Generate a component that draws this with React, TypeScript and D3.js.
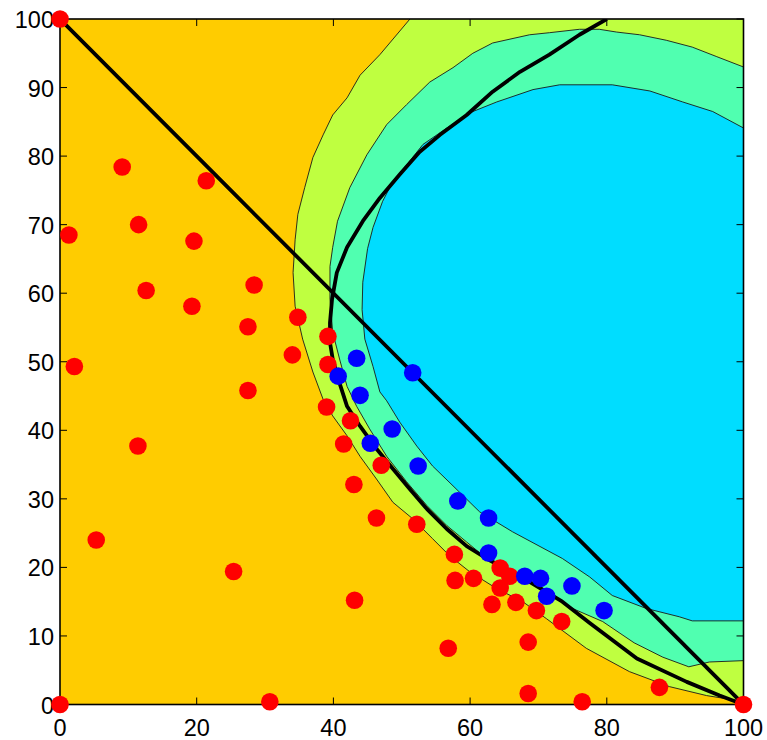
import React from 'react';
import * as d3 from 'd3';

type Pt = [number, number];

const WIDTH = 767;
const HEIGHT = 740;
const PLOT = { left: 60, right: 743.5, top: 19, bottom: 704.5 };

const xTicks = [0, 20, 40, 60, 80, 100];
const yTicks = [0, 10, 20, 30, 40, 50, 60, 70, 80, 90, 100];

// Class 1 samples
const redPoints: Pt[] = [
  [0, 100], [1.3, 68.5], [9.1, 78.4], [21.4, 76.4], [11.5, 70.0], [19.6, 67.6],
  [12.6, 60.4], [19.3, 58.1], [28.4, 61.2], [27.5, 55.1], [34.8, 56.5], [34.0, 51.0],
  [2.1, 49.3], [27.5, 45.8], [11.4, 37.7], [5.3, 24.0], [25.4, 19.4], [30.7, 0.4],
  [0, 0], [39.2, 53.7], [39.2, 49.6], [39.0, 43.4], [42.5, 41.4], [41.5, 38.0],
  [43.0, 32.1], [47.0, 34.9], [46.3, 27.2], [52.2, 26.3], [57.7, 21.9], [57.8, 18.1],
  [60.5, 18.4], [64.4, 19.9], [65.8, 18.7], [64.4, 17.0], [63.2, 14.6], [66.7, 14.9],
  [69.7, 13.7], [73.4, 12.1], [43.1, 15.2], [56.8, 8.2], [68.5, 9.1], [68.5, 1.6],
  [76.4, 0.4], [87.7, 2.5], [100, 0],
];

// Class 2 samples
const bluePoints: Pt[] = [
  [43.4, 50.5], [40.7, 47.9], [51.6, 48.4], [43.9, 45.1], [48.6, 40.2], [45.4, 38.1],
  [52.4, 34.8], [58.2, 29.7], [62.7, 27.2], [62.7, 22.1], [68.0, 18.7], [70.3, 18.4],
  [71.2, 15.8], [74.9, 17.3], [79.6, 13.7],
];

// Contour levels of the discriminant surface, outer to inner
const outerLevel: Pt[] = [
  [51.2, 100], [46.8, 94.8], [43.9, 91.8], [42.0, 88.5], [39.9, 86.0], [38.5, 83.1],
  [37.0, 79.8], [35.8, 75.4], [34.8, 71.5], [34.4, 67.8], [34.1, 63.0], [34.4, 58.1],
  [35.5, 53.3], [37.0, 48.5], [38.5, 44.5], [39.9, 42.1], [42.0, 39.2], [43.9, 36.2],
  [46.3, 32.9], [48.7, 29.5], [51.6, 27.1], [54.5, 24.2], [57.0, 21.7], [59.9, 19.4],
  [63.9, 16.9], [67.7, 15.0], [71.2, 12.5], [77.0, 8.2], [83.3, 4.8], [89.2, 2.6],
  [94.6, 1.3], [99.0, 0.6], [100, 0],
];

const middleLevel: Pt[] = [
  [100, 93.0], [96.1, 94.5], [92.5, 95.9], [88.7, 96.9], [84.8, 97.7], [81.4, 98.1],
  [78.9, 98.5], [76.0, 98.5], [71.6, 98.0], [68.7, 97.7], [63.3, 96.5], [60.4, 95.0],
  [57.5, 92.9], [54.1, 90.8], [50.7, 87.5], [47.8, 84.6], [44.9, 80.2], [42.4, 75.4],
  [40.6, 70.5], [39.9, 66.7], [39.5, 63.9], [39.5, 59.1], [39.9, 54.3], [40.9, 50.4],
  [42.0, 46.4], [43.4, 43.5], [45.3, 40.2], [47.8, 36.2], [50.7, 32.5], [53.7, 29.0],
  [56.6, 26.1], [59.5, 23.7], [62.4, 21.3], [66.0, 19.2], [70.2, 17.3], [75.0, 14.0],
  [79.4, 12.1], [84.0, 9.0], [88.2, 6.9], [92.0, 5.5], [95.0, 6.2], [100, 6.4],
];

const innerLevel: Pt[] = [
  [100, 84.1], [95.5, 86.5], [91.1, 87.9], [86.3, 89.5], [80.8, 90.4], [73.1, 90.4],
  [69.2, 89.7], [63.9, 87.9], [60.4, 86.5], [56.6, 84.1], [53.1, 81.7], [50.7, 78.7],
  [48.7, 76.3], [47.2, 73.4], [45.8, 69.6], [45.0, 66.5], [44.3, 61.6], [44.2, 57.6],
  [44.6, 53.3], [45.8, 49.3], [46.8, 45.6], [47.8, 44.3], [49.7, 41.2], [52.2, 37.7],
  [54.5, 34.8], [57.5, 31.9], [61.4, 28.1], [66.2, 25.2], [73.5, 21.3], [77.5, 18.6],
  [80.8, 15.9], [85.8, 14.0], [90.6, 12.8], [92.5, 12.2], [100, 12.2],
];

// Decision boundaries
const quadraticBoundary: Pt[] = [
  [80.0, 100], [76.0, 97.7], [71.6, 94.8], [67.3, 92.3], [63.3, 89.4], [59.5, 86.0],
  [55.6, 83.1], [52.6, 80.6], [49.7, 77.3], [46.8, 73.9], [44.3, 70.5], [42.0, 66.7],
  [40.5, 63.0], [39.8, 59.1], [39.5, 55.7], [39.5, 52.8], [39.9, 50.4], [40.7, 47.5],
  [42.0, 43.5], [43.9, 40.6], [46.3, 37.3], [48.7, 34.4], [51.2, 31.4], [53.7, 28.5],
  [56.6, 25.6], [59.5, 23.1], [62.4, 21.3], [65.5, 19.6], [68.7, 17.9], [73.5, 15.0],
  [77.5, 11.9], [84.4, 6.7], [91.7, 3.3], [96.5, 1.3], [100, 0],
];

const linearBoundary: Pt[] = [
  [0, 100], [25, 75], [50, 50], [75, 25], [100, 0],
];

const levelColors = ['#FFCC00', '#BFFF40', '#50FFB0', '#00DDFF'];

export default function App() {
  const x = d3.scaleLinear().domain([0, 100]).range([PLOT.left, PLOT.right]);
  const y = d3.scaleLinear().domain([0, 100]).range([PLOT.bottom, PLOT.top]);

  const line = d3.line<Pt>().x((d) => x(d[0])).y((d) => y(d[1]));
  const area = (pts: Pt[]) => line(pts) + 'Z';

  const font = "'Liberation Sans', Arial, Helvetica, sans-serif";
  const tickLen = 7;

  return (
    <svg
      width={WIDTH}
      height={HEIGHT}
      style={{ position: 'absolute', left: 0, top: 0, background: '#fff' }}
    >
      <defs>
        <clipPath id="plot-clip">
          <rect
            x={PLOT.left}
            y={PLOT.top}
            width={PLOT.right - PLOT.left}
            height={PLOT.bottom - PLOT.top}
          />
        </clipPath>
      </defs>

      <g clipPath="url(#plot-clip)">
        <rect
          x={PLOT.left}
          y={PLOT.top}
          width={PLOT.right - PLOT.left}
          height={PLOT.bottom - PLOT.top}
          fill={levelColors[0]}
        />
        <path d={area([...outerLevel, [100, 100]])} fill={levelColors[1]} />
        <path d={area(middleLevel)} fill={levelColors[2]} />
        <path d={area(innerLevel)} fill={levelColors[3]} />
        {[outerLevel, middleLevel, innerLevel].map((lv, i) => (
          <path key={i} d={line(lv) ?? ''} fill="none" stroke="#1a1a1a" strokeWidth={0.9} />
        ))}
        <path d={line(linearBoundary) ?? ''} fill="none" stroke="#000" strokeWidth={3.8} strokeLinejoin="round" />
        <path d={line(quadraticBoundary) ?? ''} fill="none" stroke="#000" strokeWidth={3.8} strokeLinejoin="round" />
      </g>

      {/* ticks inside the frame on all four sides */}
      <g stroke="#000" strokeWidth={1}>
        {xTicks.map((t) => (
          <g key={'xt' + t}>
            <line x1={x(t)} x2={x(t)} y1={PLOT.bottom} y2={PLOT.bottom - tickLen} />
            <line x1={x(t)} x2={x(t)} y1={PLOT.top} y2={PLOT.top + tickLen} />
          </g>
        ))}
        {yTicks.map((t) => (
          <g key={'yt' + t}>
            <line x1={PLOT.left} x2={PLOT.left + tickLen} y1={y(t)} y2={y(t)} />
            <line x1={PLOT.right} x2={PLOT.right - tickLen} y1={y(t)} y2={y(t)} />
          </g>
        ))}
      </g>

      <rect
        x={PLOT.left}
        y={PLOT.top}
        width={PLOT.right - PLOT.left}
        height={PLOT.bottom - PLOT.top}
        fill="none"
        stroke="#000"
        strokeWidth={1.6}
      />

      <g fontFamily={font} fontSize={23.5} fill="#000">
        {xTicks.map((t) => (
          <text key={'xl' + t} x={x(t)} y={735.5} textAnchor="middle">
            {t}
          </text>
        ))}
        {yTicks.map((t) => (
          <text key={'yl' + t} x={54} y={y(t) + 9} textAnchor="end">
            {t}
          </text>
        ))}
      </g>

      <g>
        {redPoints.map((p, i) => (
          <circle key={'r' + i} cx={x(p[0])} cy={y(p[1])} r={8.8} fill="#FF0000" />
        ))}
        {bluePoints.map((p, i) => (
          <circle key={'b' + i} cx={x(p[0])} cy={y(p[1])} r={8.8} fill="#0000FF" />
        ))}
      </g>
    </svg>
  );
}
